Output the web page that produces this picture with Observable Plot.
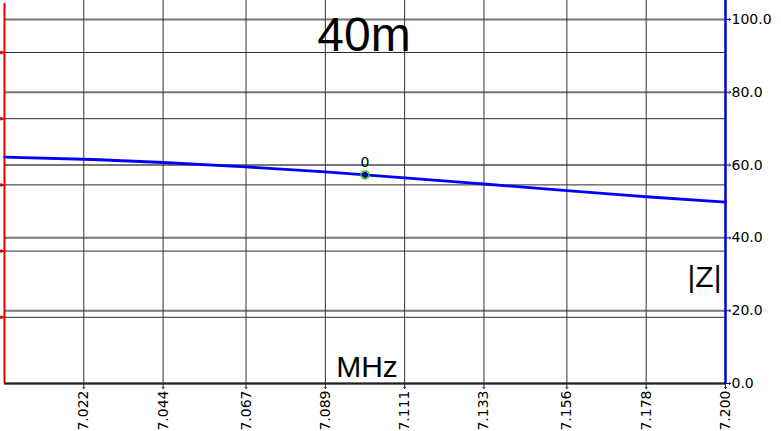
<!DOCTYPE html>
<html>
<head>
<meta charset="utf-8">
<script src="https://cdn.jsdelivr.net/npm/d3@7"></script>
<script src="https://cdn.jsdelivr.net/npm/@observablehq/plot@0.6"></script>
<style>
  html, body { margin: 0; padding: 0; background: #fff; }
  #chart svg { display: block; }
</style>
</head>
<body>
<div id="chart"></div>
<script>
// ---- data ----
const freqMHz = [7.000, 7.022, 7.044, 7.067, 7.089, 7.100, 7.111, 7.133, 7.156, 7.178, 7.200];
const absZ    = [62.2, 61.6, 60.7, 59.5, 58.1, 57.3, 56.5, 54.8, 53.0, 51.3, 49.8];

const markerFreq = [7.100];
const markerZ = [57.3];
const markerLabel = ["0"];

const xTickLabels = ["7.022", "7.044", "7.067", "7.089", "7.111", "7.133", "7.156", "7.178", "7.200"];
const zTicks = [0, 20, 40, 60, 80, 100];
const zTickLabels = ["0.0", "20.0", "40.0", "60.0", "80.0", "100.0"];
const leftTicks = [1, 2, 3, 4, 5];   // hidden (unlabelled) left red axis
const leftMax = 5.785;
const zMax = 105.2;

const titleText = ["40m"];
const xTitle = ["MHz"];
const yTitle = ["|Z|"];

// ---- derived tables ----
const series = freqMHz.map((f, i) => ({f, z: absZ[i]}));
const marker = markerFreq.map((f, i) => ({f, z: markerZ[i], label: markerLabel[i]}));
const xTicks = xTickLabels.map(s => ({v: +s, label: s}));
const zTickRows = zTicks.map((v, i) => ({v, label: zTickLabels[i]}));
const leftToZ = d3.scaleLinear([0, leftMax], [0, zMax]);
const leftRows = leftTicks.map(t => ({v: leftToZ(t)}));

const font = "'Liberation Sans', Arial, sans-serif";
const tickFont = "'DejaVu Sans', Verdana, sans-serif";

const chart = Plot.plot({
  width: 781,
  height: 431,
  marginLeft: 4,
  marginRight: 56,
  marginTop: 0,
  marginBottom: 48,
  style: {background: "#fff", overflow: "visible"},
  x: {domain: [7.0, 7.2], axis: null},
  y: {domain: [0, zMax], axis: null},
  marks: [
    // grids
    Plot.ruleY(zTickRows, {y: "v", stroke: "#777", strokeWidth: 2}),
    Plot.ruleY(leftRows, {y: "v", stroke: "#2a2a2a", strokeWidth: 1}),
    Plot.ruleX(xTicks, {x: "v", stroke: "#333", strokeWidth: 1}),
    // bottom axis
    Plot.ruleY([0], {stroke: "#222", strokeWidth: 2}),
    Plot.vector(xTicks, {x: "v", y: 0, length: 5, rotate: 180, anchor: "start", stroke: "#222", strokeWidth: 1}),
    Plot.text(xTicks, {x: "v", y: 0, text: "label", rotate: -90, textAnchor: "end", lineAnchor: "middle",
      dy: 7, fontSize: 14, fontFamily: tickFont, fill: "#000"}),
    // left red axis
    Plot.ruleX([7.0], {stroke: "#dd0000", strokeWidth: 2, y1: 0, y2: zMax, insetBottom: -3}),
    Plot.vector(leftRows, {x: 7.0, y: "v", length: 4, rotate: -90, anchor: "start", stroke: "#dd0000", strokeWidth: 2}),
    // right blue axis
    Plot.ruleX([7.2], {stroke: "#0000cc", strokeWidth: 2.5, y1: 0, y2: zMax}),
    Plot.vector(zTickRows, {x: 7.2, y: "v", length: 5, rotate: 90, anchor: "start", stroke: "#0000cc", strokeWidth: 1}),
    Plot.text(zTickRows, {x: 7.2, y: "v", text: "label", textAnchor: "start", dx: 6, fontSize: 14,
      fontFamily: tickFont, fill: "#000"}),
    // data line
    Plot.line(series, {x: "f", y: "z", stroke: "#0000ff", strokeWidth: 2.8, curve: "natural"}),
    // marker
    Plot.dot(marker, {x: "f", y: "z", r: 4, fill: "none", stroke: "#22cc22", strokeWidth: 1.5}),
    Plot.dot(marker, {x: "f", y: "z", r: 2.5, fill: "#0000ff", stroke: "#000", strokeWidth: 1}),
    Plot.text(marker, {x: "f", y: "z", text: "label", dy: -12, fontSize: 14, fontFamily: tickFont, fill: "#000"}),
    // titles
    Plot.text(titleText, {frameAnchor: "top", text: d => d, lineAnchor: "bottom", dy: 50, dx: -1,
      fontSize: 48, fontFamily: font, fill: "#000"}),
    Plot.text(xTitle, {frameAnchor: "bottom", text: d => d, lineAnchor: "bottom", dy: -7, dx: 2,
      fontSize: 30, fontFamily: font, fill: "#000"}),
    Plot.text(yTitle, {frameAnchor: "bottom-right", text: d => d, textAnchor: "end", lineAnchor: "bottom",
      dy: -97, dx: -4, fontSize: 30, fontFamily: font, fill: "#000"})
  ]
});
document.getElementById("chart").appendChild(chart);
</script>
</body>
</html>
